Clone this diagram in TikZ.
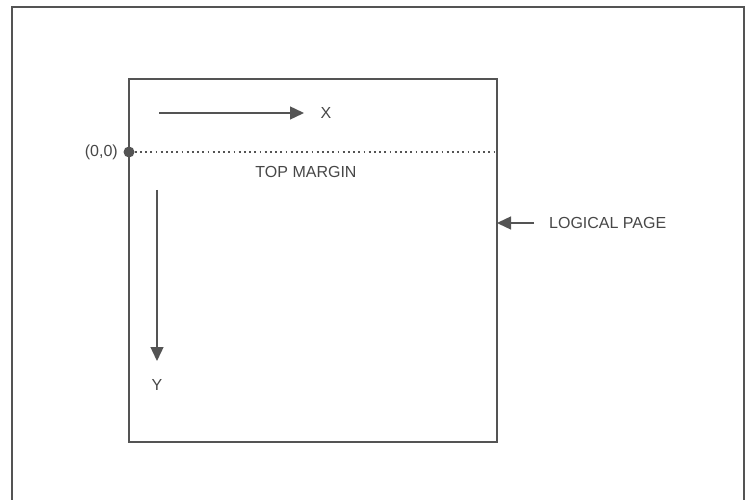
\documentclass[tikz,border=0pt]{standalone}
\usepackage{fontspec}
\setmainfont{Liberation Sans}
\usepackage{tikz}
\usetikzlibrary{positioning}
\usetikzlibrary{arrows.meta}
\definecolor{lineColor}{rgb}{0.33,0.33,0.33}
\definecolor{textColor}{rgb}{0.28,0.28,0.28}

\begin{document}
\begin{tikzpicture}[x=1pt,y=-1pt]

            \tikzstyle{frameEdge} = [line width=1.4pt, lineColor];
            \tikzstyle{axisArrow} = [line width=1.4pt, lineColor, -{Triangle[length=14pt,width=13pt]}];
            \tikzstyle{label} = [textColor, font=\fontsize{16}{18}\selectfont, inner sep=0pt];
            \tikzstyle{originNode} = [shape=circle, fill=lineColor, minimum size=11pt, inner sep=0pt];

            \useasboundingbox (0,0) rectangle (745,500);

            % outer sheet
            \draw[frameEdge] (12,500) -- (12,7) -- (744,7) -- (744,500);

            % logical page
            \coordinate (pageTL) at (129,79);
            \coordinate (pageBR) at (497,442);
            \draw[frameEdge] (pageTL) rectangle (pageBR);

            \node[originNode] (origin) at (129,152) {};
            \coordinate (marginEnd) at (497,152);
            \draw[lineColor, line width=1.3pt, dash pattern=on 1.8pt off 3.4pt] (origin) -- (marginEnd);

            \node[label, anchor=east] (originLabel) at (118,152) {(0,0)};
            \node[label] (marginLabel) at (306,172) {TOP MARGIN};

            % x axis
            \coordinate (xStart) at (159,113);
            \coordinate (xEnd)   at (304,113);
            \node[label] (xLabel) at (326,113) {X};
            \draw[axisArrow] (xStart) -- (xEnd);

            % y axis
            \coordinate (yStart) at (157,190);
            \coordinate (yEnd)   at (157,361);
            \node[label] (yLabel) at (157,385) {Y};
            \draw[axisArrow] (yStart) -- (yEnd);

            % page pointer
            \coordinate (pageStart) at (534,223);
            \coordinate (pageEdge)  at (497,223);
            \node[label, anchor=west] (pageLabel) at (549,223) {LOGICAL PAGE};
            \draw[axisArrow] (pageStart) -- (pageEdge);

\end{tikzpicture}
\end{document}
